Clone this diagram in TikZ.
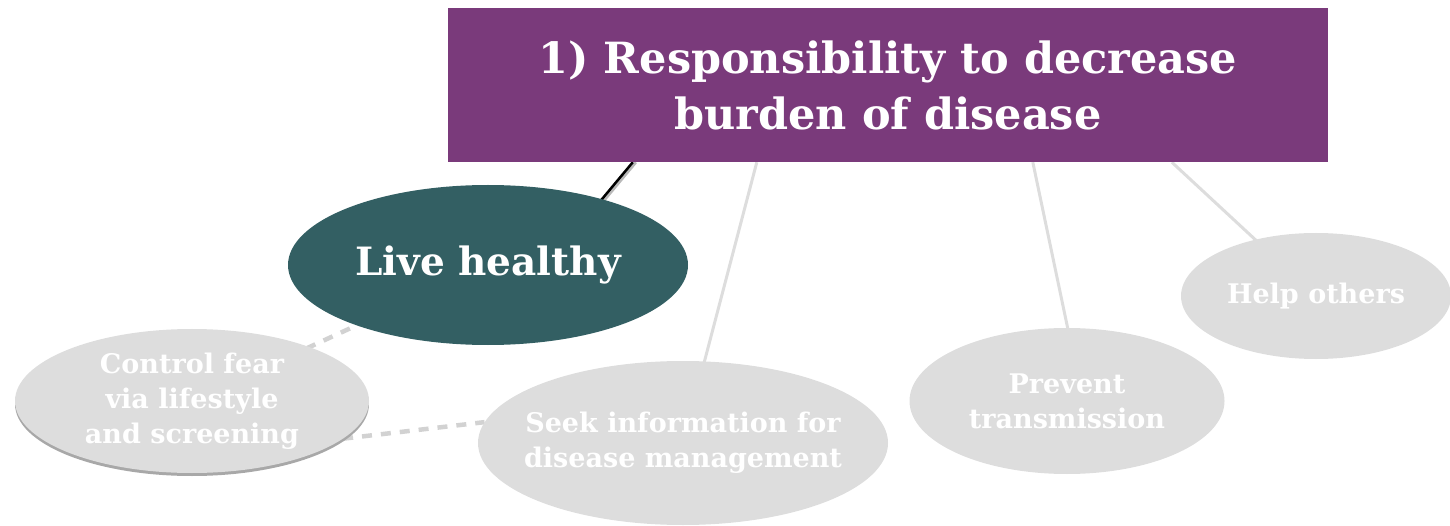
\documentclass[tikz,border=0pt]{standalone}
\usepackage{fontspec}
\setmainfont{DejaVu Serif}
\usetikzlibrary{shapes.geometric,backgrounds,calc}
\definecolor{purp}{HTML}{7A3A7B}
\definecolor{teal}{HTML}{335F63}
\definecolor{lgray}{HTML}{DDDDDD}
\definecolor{rimgray}{HTML}{A8A8A8}
\tikzset{
  x=1pt,y=-1pt,
  bub/.style={ellipse, fill=lgray, text=white, inner xsep=-25pt, inner ysep=-12pt, align=center, font=\bfseries\fontsize{27}{35}\selectfont},
  link/.style={draw=lgray, line width=3pt},
  dlink/.style={draw=gray!35, line width=4.5pt, dash pattern=on 10pt off 9pt},
}
\begin{document}
\begin{tikzpicture}
\useasboundingbox (0,0) rectangle (1450,526);
\node[fill=purp, minimum width=880pt, minimum height=154pt, inner sep=0pt, text=white, align=center,
  font=\bfseries\fontsize{43}{56}\selectfont] (title) at (888,85) {1) Responsibility to decrease\\burden of disease};
\node[ellipse, fill=teal, minimum width=400pt, minimum height=160pt, inner sep=0pt, text=white,
  font=\bfseries\fontsize{39}{40}\selectfont] (live) at (488,265) {Live healthy};
\fill[rimgray] (192,404) ellipse [x radius=177, y radius=72];
\node[bub, minimum width=354pt, minimum height=144pt] (ctrl) at (192,401) {Control fear\\via lifestyle\\and screening};
\node[bub, minimum width=410pt, minimum height=164pt] (seek) at (683,443) {Seek information for\\disease management};
\node[bub, minimum width=315pt, minimum height=146pt] (prev) at (1067,401) {Prevent\\transmission};
\node[bub, minimum width=270pt, minimum height=126pt] (help) at (1316,296) {Help others};
\begin{scope}[on background layer]
  \draw[gray!55, line width=3pt] ($(title.south west)+(188,0)$) -- ($(live.center)+(62,0)$);
  \draw[black, line width=2.5pt] ($(title.south west)+(185,0)$) -- ($(live.center)+(59,0)$);
  \draw[link] ($(title.south west)+(309,0)$) -- (seek.center);
  \draw[link] ($(title.south west)+(585,0)$) -- ($(prev.center)+(16,0)$);
  \draw[link] ($(title.south west)+(724,0)$) -- (help.center);
  \draw[dlink] (live.center) -- (ctrl.center);
  \draw[dlink] (ctrl.-14) -- (seek.174);
\end{scope}
\end{tikzpicture}
\end{document}
